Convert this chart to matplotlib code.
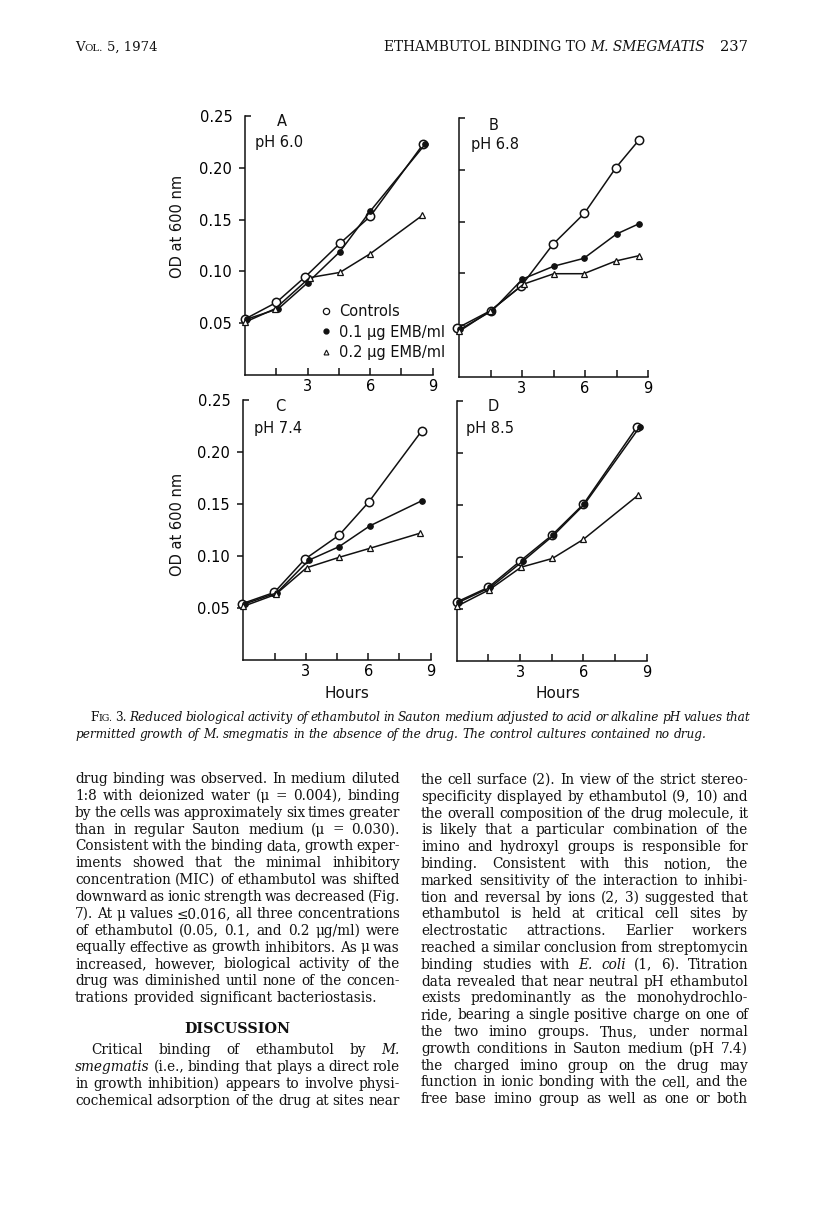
import matplotlib
matplotlib.use('Agg')
import matplotlib.pyplot as plt
from matplotlib.lines import Line2D

# ---------------- data ----------------
# Panel A  pH 6.0
A_ctrl_t = [0.0, 1.5, 2.9, 4.55, 6.0, 8.55]
A_ctrl_od = [0.054, 0.070, 0.095, 0.127, 0.153, 0.223]
A_d01_t = [0.1, 1.6, 3.0, 4.55, 6.0, 8.65]
A_d01_od = [0.054, 0.064, 0.089, 0.119, 0.158, 0.223]
A_d02_t = [0.0, 1.45, 3.1, 4.55, 6.0, 8.5]
A_d02_od = [0.051, 0.064, 0.094, 0.099, 0.117, 0.154]

# Panel B  pH 6.8
B_ctrl_t = [-0.1, 1.5, 2.97, 4.47, 5.97, 7.47, 8.58]
B_ctrl_od = [0.047, 0.064, 0.088, 0.128, 0.158, 0.202, 0.229]
B_d01_t = [0.05, 1.58, 3.02, 4.52, 5.94, 7.5, 8.58]
B_d01_od = [0.046, 0.064, 0.0945, 0.107, 0.1145, 0.138, 0.148]
B_d02_t = [0.0, 1.47, 3.08, 4.52, 5.94, 7.47, 8.55]
B_d02_od = [0.044, 0.0635, 0.0897, 0.0997, 0.0997, 0.112, 0.117]

# Panel C  pH 7.4
C_ctrl_t = [-0.08, 1.49, 2.96, 4.6, 6.03, 8.56]
C_ctrl_od = [0.054, 0.065, 0.097, 0.120, 0.152, 0.220]
C_d01_t = [0.08, 1.6, 3.15, 4.6, 6.08, 8.56]
C_d01_od = [0.054, 0.0645, 0.096, 0.109, 0.129, 0.153]
C_d02_t = [0.0, 1.55, 3.04, 4.6, 6.08, 8.5]
C_d02_od = [0.0516, 0.063, 0.0887, 0.0987, 0.1074, 0.122]

# Panel D  pH 8.5
D_ctrl_t = [0.0, 1.5, 3.0, 4.5, 6.0, 8.53]
D_ctrl_od = [0.0565, 0.0706, 0.0958, 0.1206, 0.1506, 0.2248]
D_d01_t = [0.13, 1.6, 3.13, 4.58, 6.05, 8.66]
D_d01_od = [0.0565, 0.0706, 0.0958, 0.1206, 0.1506, 0.2248]
D_d02_t = [0.0, 1.55, 3.05, 4.53, 6.0, 8.6]
D_d02_od = [0.0523, 0.0684, 0.090, 0.0984, 0.1168, 0.1594]

x_major = [3, 6, 9]
x_major_labels = ['3', '6', '9']
x_minor = [1.5, 4.5, 7.5]
y_major = [0.05, 0.10, 0.15, 0.20]
y_major_labels = ['0.05', '0.10', '0.15', '0.20']
y_top = [0.25]
y_top_labels = ['0.25']
legend_labels = ['Controls', '0.1 μg EMB/ml', '0.2 μg EMB/ml']

header_title = 'ETHAMBUTOL BINDING TO'
header_title_it = 'M. SMEGMATIS'
header_page = '237'

caption_1 = ('Reduced biological activity of ethambutol in Sauton medium adjusted '
             'to acid or alkaline pH values that')
caption_2 = ('permitted growth of M. smegmatis in the absence of the drug. '
             'The control cultures contained no drug.')

left_col_1 = [
    "drug binding was observed. In medium diluted",
    "1:8 with deionized water (μ = 0.004), binding",
    "by the cells was approximately six times greater",
    "than in regular Sauton medium (μ = 0.030).",
    "Consistent with the binding data, growth exper-",
    "iments showed that the minimal inhibitory",
    "concentration (MIC) of ethambutol was shifted",
    "downward as ionic strength was decreased (Fig.",
    "7). At μ values ≤0.016, all three concentrations",
    "of ethambutol (0.05, 0.1, and 0.2 μg/ml) were",
    "equally effective as growth inhibitors. As μ was",
    "increased, however, biological activity of the",
    "drug was diminished until none of the concen-",
    "trations provided significant bacteriostasis.",
]
left_col_2 = [
    "Critical binding of ethambutol by _M._",
    "_smegmatis_ (i.e., binding that plays a direct role",
    "in growth inhibition) appears to involve physi-",
    "cochemical adsorption of the drug at sites near",
]
right_col = [
    "the cell surface (2). In view of the strict stereo-",
    "specificity displayed by ethambutol (9, 10) and",
    "the overall composition of the drug molecule, it",
    "is likely that a particular combination of the",
    "imino and hydroxyl groups is responsible for",
    "binding. Consistent with this notion, the",
    "marked sensitivity of the interaction to inhibi-",
    "tion and reversal by ions (2, 3) suggested that",
    "ethambutol is held at critical cell sites by",
    "electrostatic attractions. Earlier workers",
    "reached a similar conclusion from streptomycin",
    "binding studies with _E._ _coli_ (1, 6). Titration",
    "data revealed that near neutral pH ethambutol",
    "exists predominantly as the monohydrochlo-",
    "ride, bearing a single positive charge on one of",
    "the two imino groups. Thus, under normal",
    "growth conditions in Sauton medium (pH 7.4)",
    "the charged imino group on the drug may",
    "function in ionic bonding with the cell, and the",
    "free base imino group as well as one or both",
]

# ---------------- figure ----------------
W, H = 816, 1232
fig = plt.figure(figsize=(W / 100, H / 100), dpi=100)
fig.patch.set_facecolor('white')
renderer = fig.canvas.get_renderer()
SERIF = 'DejaVu Serif'
SANS = 'DejaVu Sans'
INK = '#111111'


def fx(x):
    return x / W


def fy(y):
    return 1 - y / H


def measure(s, **kw):
    t = fig.text(0, 0, s, **kw)
    w = t.get_window_extent(renderer).width
    t.remove()
    return w


def pieces(text, style, size):
    if style == 'sc':
        return [(text[0], dict(size=size, style='normal')),
                (text[1:].upper(), dict(size=size * 0.78, style='normal'))]
    return [(text, dict(size=size, style='italic' if style == 'i' else 'normal',
                        weight='bold' if style == 'b' else 'normal'))]


def word_width(text, style, size):
    return sum(measure(p, family=SERIF, **kw) for p, kw in pieces(text, style, size))


def parse(line, default='n'):
    toks = []
    for w in line.split(' '):
        if len(w) > 2 and w.startswith('_') and w.endswith('_'):
            toks.append((w[1:-1], 'i'))
        else:
            toks.append((w, default))
    return toks


def space_w(size):
    return measure('a a', family=SERIF, size=size) - measure('aa', family=SERIF, size=size)


def natural(tokens, size, sp=1.0):
    return sum(word_width(t, s, size) for t, s in tokens) + sp * space_w(size) * (len(tokens) - 1)


def draw_line(tokens, x0, x1, y, size, justify=True):
    widths = [word_width(t, s, size) for t, s in tokens]
    if justify and len(tokens) > 1:
        gap = (x1 - x0 - sum(widths)) / (len(tokens) - 1)
    else:
        gap = space_w(size)
    x = x0
    for (t, s), w in zip(tokens, widths):
        xx = x
        for p, kw in pieces(t, s, size):
            fig.text(fx(xx), fy(y), p, family=SERIF, ha='left', va='baseline',
                     color=INK, **kw)
            xx += measure(p, family=SERIF, **kw)
        x += w + gap


# ---------------- header ----------------
hs = 9.5
x = 75
for p, sz, extra in [('V', hs, 0), ('OL.', hs * 0.78, 4), ('5, 1974', hs, 0)]:
    fig.text(fx(x), fy(51), p, family=SERIF, size=sz, ha='left', va='baseline', color=INK)
    x += measure(p, family=SERIF, size=sz) + extra

# fit running title between x=385 and x=705
tw = (measure(header_title, family=SERIF, size=10) +
      measure(header_title_it, family=SERIF, size=10, style='italic') + 4)
ts = 10 * (705 - 385) / tw
w_it = measure(header_title_it, family=SERIF, size=ts, style='italic')
fig.text(fx(705), fy(51), header_title_it, family=SERIF, size=ts, style='italic',
         ha='right', va='baseline', color=INK)
fig.text(fx(705 - w_it - 4), fy(51), header_title, family=SERIF, size=ts,
         ha='right', va='baseline', color=INK)
fig.text(fx(748), fy(51), header_page, family=SERIF, size=10.5,
         ha='right', va='baseline', color=INK)


# ---------------- panels ----------------
def make_panel(rect, ctrl, d01, d02, letter, ph, labelled, letter_xy, ph_xy):
    l, t, r, b = rect
    ax = fig.add_axes([fx(l), fy(b), (r - l) / W, (b - t) / H])
    ax.patch.set_alpha(0)
    ax.set_xlim(0, 9)
    ax.set_ylim(0, 0.25)
    for sp in ['top', 'right']:
        ax.spines[sp].set_visible(False)
    for sp in ['left', 'bottom']:
        ax.spines[sp].set_linewidth(1.1)
        ax.spines[sp].set_color(INK)
    ax.plot(*ctrl, '-', color=INK, lw=1.1, marker='o', ms=6, mfc='white', mec=INK,
            mew=1.1, clip_on=False, zorder=3)
    ax.plot(*d01, '-', color=INK, lw=1.1, marker='o', ms=4.0, mfc=INK, mec=INK,
            mew=0.8, clip_on=False, zorder=4)
    ax.plot(*d02, '-', color=INK, lw=1.1, marker='^', ms=4.5, mfc='white', mec=INK,
            mew=0.9, clip_on=False, zorder=5)
    ax.set_xticks(x_major, labels=x_major_labels)
    ax.set_xticks(x_minor, minor=True)
    ax.tick_params(axis='x', which='both', direction='in', length=5, width=1.1,
                   color=INK, labelsize=10.5, pad=3)
    for lab in ax.get_xticklabels():
        lab.set_family(SANS)
    if labelled:
        ax.set_yticks(y_major, labels=y_major_labels)
        ax.set_yticks(y_top, labels=y_top_labels, minor=True)
        ax.tick_params(axis='y', which='major', direction='out', length=4.5,
                       width=1.1, color=INK, labelsize=10.5, pad=5)
        ax.tick_params(axis='y', which='minor', direction='in', length=4.5,
                       width=1.1, color=INK, labelsize=10.5, pad=9)
        for lab in ax.get_yticklabels() + ax.get_yticklabels(minor=True):
            lab.set_family(SANS)
    else:
        ax.set_yticks(y_major)
        ax.set_yticks(y_top, minor=True)
        ax.tick_params(axis='y', which='both', direction='in', length=4.5,
                       width=1.1, color=INK, labelleft=False)
    fig.text(fx(letter_xy[0]), fy(letter_xy[1]), letter, family=SANS, size=10.5,
             ha='center', va='center', color=INK)
    fig.text(fx(ph_xy[0]), fy(ph_xy[1]), ph, family=SANS, size=10.5,
             ha='center', va='center', color=INK)
    return ax


axA = make_panel((245, 116, 432.7, 375), (A_ctrl_t, A_ctrl_od), (A_d01_t, A_d01_od),
                 (A_d02_t, A_d02_od), 'A', 'pH 6.0', True, (282, 122), (279, 143))
axB = make_panel((459, 118, 648, 377), (B_ctrl_t, B_ctrl_od), (B_d01_t, B_d01_od),
                 (B_d02_t, B_d02_od), 'B', 'pH 6.8', False, (494, 125), (495, 144))
axC = make_panel((243.3, 400, 430.7, 660), (C_ctrl_t, C_ctrl_od), (C_d01_t, C_d01_od),
                 (C_d02_t, C_d02_od), 'C', 'pH 7.4', True, (280, 407), (278, 428))
axD = make_panel((456.7, 401, 646.7, 660.7), (D_ctrl_t, D_ctrl_od), (D_d01_t, D_d01_od),
                 (D_d02_t, D_d02_od), 'D', 'pH 8.5', False, (493, 407), (490, 428))

for yc in (226, 524):
    fig.text(fx(178), fy(yc), 'OD at 600 nm', rotation=90, family=SANS, size=10.5,
             ha='center', va='center', color=INK)
for xc in (347, 558):
    fig.text(fx(xc), fy(693), 'Hours', family=SANS, size=11,
             ha='center', va='center', color=INK)

handles = [
    Line2D([], [], ls='none', marker='o', ms=4.5, mfc='white', mec=INK, mew=0.9),
    Line2D([], [], ls='none', marker='o', ms=3.5, mfc=INK, mec=INK),
    Line2D([], [], ls='none', marker='^', ms=3.5, mfc='white', mec=INK, mew=0.8),
]
leg = axA.legend(handles, legend_labels, loc='center left',
                 bbox_to_anchor=(fx(320), fy(332)), bbox_transform=fig.transFigure,
                 frameon=False, handlelength=0.8, handletextpad=0.5,
                 labelspacing=0.4, borderpad=0, borderaxespad=0,
                 prop={'family': SANS, 'size': 10.5})
for txt in leg.get_texts():
    txt.set_color(INK)

# ---------------- caption ----------------
cap1 = [('FIG.', 'sc'), ('3.', 'n')] + [(w, 'i') for w in caption_1.split(' ')]
cap2 = [(w, 'i') for w in caption_2.split(' ')]
cap_x0, cap_x1 = 90, 750
cs = 9.0 * (cap_x1 - cap_x0) / natural(cap1, 9.0, 0.7)
draw_line(cap1, cap_x0, cap_x1, 721, cs, justify=True)
draw_line(cap2, 75, 750, 738, cs, justify=False)

# ---------------- body text ----------------
L0, L1 = 75, 400
R0, R1 = 421, 748
colw = L1 - L0
all_lines = [parse(s) for s in left_col_1 + left_col_2 + right_col]
maxnat = max(natural(tk, 9.0, 0.6) for tk in all_lines)
bs = 9.0 * colw / maxnat

lead = 16.85
for i, s in enumerate(left_col_1):
    draw_line(parse(s), L0, L1, 783 + i * lead, bs, justify=(i != len(left_col_1) - 1))

fig.text(fx((L0 + L1) / 2), fy(1033), 'DISCUSSION', family=SERIF, weight='bold',
         size=bs * 1.05, ha='center', va='baseline', color=INK)

base2 = 1054
for i, s in enumerate(left_col_2):
    x0 = L0 + 16 if i == 0 else L0
    draw_line(parse(s), x0, L1, base2 + i * lead, bs, justify=True)

for i, s in enumerate(right_col):
    draw_line(parse(s), R0, R1, 784 + i * 16.8, bs, justify=True)

fig.savefig('out.png', dpi=100, facecolor='white')
